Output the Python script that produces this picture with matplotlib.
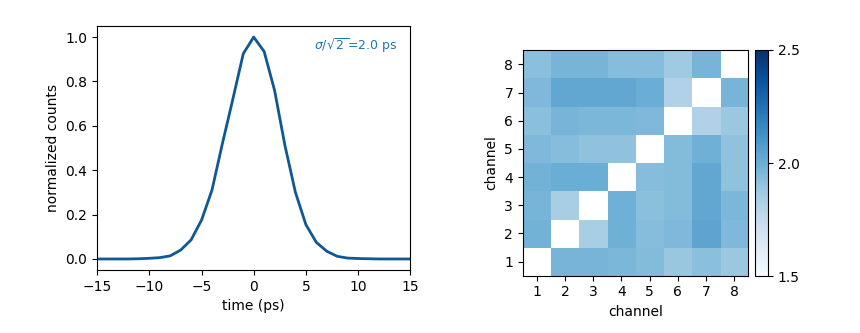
import numpy as np
import matplotlib.pyplot as plt

# timing histogram, 1 ps bins
t = np.arange(-15, 16)
counts = [0.0, 0.0, 0.0, 0.0, 0.001, 0.003, 0.006, 0.014, 0.04, 0.086,
          0.175, 0.31, 0.52, 0.72, 0.925, 1.0, 0.935, 0.76, 0.51, 0.3,
          0.155, 0.075, 0.035, 0.012, 0.004, 0.002, 0.001, 0.0, 0.0, 0.0, 0.0]

channels = [1, 2, 3, 4, 5, 6, 7, 8]
# per-pair resolution, row = channel on y, col = channel on x
res = np.array([
    [np.nan, 1.97, 1.97, 1.96, 1.94, 1.89, 1.92, 1.88],
    [1.98, np.nan, 1.84, 1.99, 1.93, 1.95, 2.04, 1.95],
    [1.97, 1.84, np.nan, 1.99, 1.92, 1.94, 2.03, 1.96],
    [1.98, 2.00, 2.00, np.nan, 1.93, 1.94, 2.03, 1.91],
    [1.95, 1.93, 1.91, 1.91, np.nan, 1.94, 1.99, 1.91],
    [1.92, 1.97, 1.96, 1.96, 1.95, np.nan, 1.82, 1.88],
    [1.95, 2.03, 2.03, 2.03, 2.00, 1.82, np.nan, 1.97],
    [1.92, 1.97, 1.97, 1.93, 1.93, 1.87, 1.97, np.nan],
])

fig = plt.figure(figsize=(8.6, 3.33), dpi=100)

ax1 = fig.add_axes([0.113, 0.189, 0.364, 0.733])
ax1.plot(t, counts, color='#0f5894', lw=2)
ax1.set_xlim(-15, 15)
ax1.set_xlabel('time (ps)')
ax1.set_ylabel('normalized counts')
ax1.text(0.96, 0.92, r'$\sigma/\sqrt{2\,}$=2.0 ps', transform=ax1.transAxes,
         ha='right', va='center', fontsize=9, color='#1f77b4')

ax2 = fig.add_axes([0.608, 0.171, 0.262, 0.679])
im = ax2.imshow(res, cmap='Blues', vmin=1.5, vmax=2.5, origin='lower',
                extent=[0.5, 8.5, 0.5, 8.5])
ax2.set_xticks(channels)
ax2.set_yticks(channels)
ax2.set_xlabel('channel')
ax2.set_ylabel('channel')

cax = fig.add_axes([0.878, 0.171, 0.015, 0.679])
cb = fig.colorbar(im, cax=cax, ticks=[1.5, 2.0, 2.5])

fig.savefig('out.png', dpi=100)
